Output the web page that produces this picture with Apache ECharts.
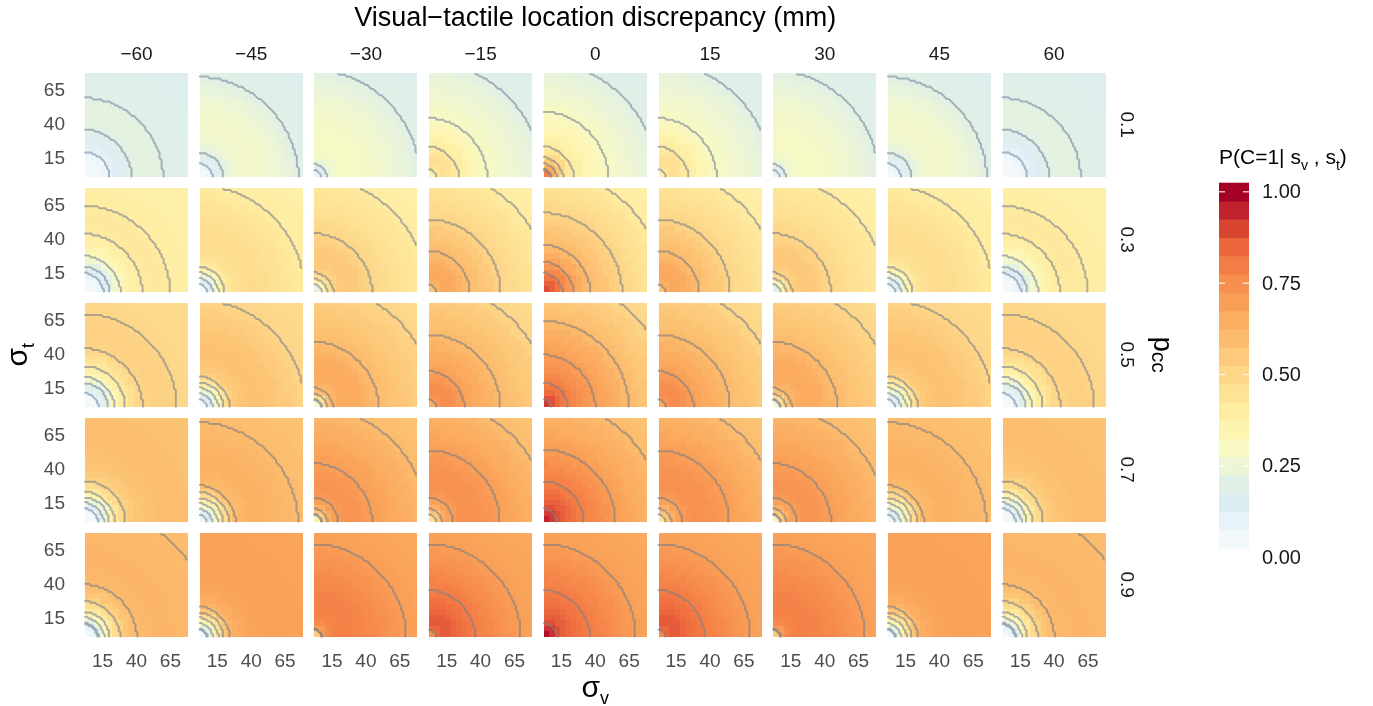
<!DOCTYPE html>
<html>
<head>
<meta charset="utf-8">
<title>P(C=1 | s_v, s_t)</title>
<script src="https://cdn.jsdelivr.net/npm/echarts@6/dist/echarts.min.js"></script>
<style>
  html, body { margin: 0; padding: 0; background: #ffffff; }
  #chart { width: 1373px; height: 706px; }
</style>
</head>
<body>
<div id="chart"></div>
<script>
// Facet columns (visual-tactile discrepancy, mm) and facet rows (prior p_cc)
const discrepancies = [-60, -45, -30, -15, 0, 15, 30, 45, 60];
const priorLabels = ['0.1', '0.3', '0.5', '0.7', '0.9'];

// sigma_v / sigma_t sample grid (mm) and the ticks shown on both axes
const sigmaCells = [4, 8, 12, 16, 20, 24, 28, 32, 36, 40, 44, 48, 52, 56, 60, 64, 68, 72, 76];
const sigmaTicks = [15, 40, 65];

// Radii sqrt(sigma_v^2 + sigma_t^2) at which the posterior is tabulated
const ringRadii = [6, 10, 14, 18, 22, 26, 30, 34, 38, 42, 47, 52, 57, 62, 67, 72, 77, 82, 88, 94, 100, 108];

// Posterior P(C=1 | s_v, s_t) per ring; rows are |discrepancy| = 0, 15, 30, 45, 60 mm
const profileDiscrepancies = [0, 15, 30, 45, 60];
const prob_pcc01 = [
  [0.80, 0.66, 0.55, 0.48, 0.42, 0.39, 0.37, 0.352, 0.338, 0.325, 0.308, 0.294, 0.28, 0.268, 0.256, 0.244, 0.232, 0.215, 0.198, 0.19, 0.183, 0.176],
  [0.36, 0.44, 0.465, 0.455, 0.415, 0.39, 0.37, 0.35, 0.332, 0.312, 0.296, 0.285, 0.274, 0.263, 0.253, 0.242, 0.23, 0.213, 0.197, 0.189, 0.182, 0.175],
  [0.09, 0.18, 0.245, 0.275, 0.29, 0.296, 0.296, 0.293, 0.289, 0.285, 0.278, 0.27, 0.26, 0.25, 0.238, 0.225, 0.208, 0.197, 0.19, 0.185, 0.18, 0.174],
  [0.03, 0.07, 0.13, 0.185, 0.225, 0.25, 0.265, 0.273, 0.278, 0.28, 0.277, 0.27, 0.258, 0.245, 0.23, 0.212, 0.197, 0.19, 0.185, 0.18, 0.176, 0.171],
  [0.012, 0.028, 0.048, 0.075, 0.105, 0.13, 0.155, 0.18, 0.203, 0.215, 0.222, 0.22, 0.208, 0.196, 0.19, 0.186, 0.182, 0.179, 0.176, 0.173, 0.17, 0.167]
];
const prob_pcc03 = [
  [0.89, 0.86, 0.82, 0.77, 0.72, 0.68, 0.65, 0.615, 0.595, 0.58, 0.563, 0.54, 0.515, 0.495, 0.48, 0.466, 0.452, 0.438, 0.415, 0.395, 0.388, 0.38],
  [0.57, 0.64, 0.665, 0.665, 0.652, 0.633, 0.61, 0.593, 0.578, 0.562, 0.545, 0.515, 0.495, 0.482, 0.47, 0.458, 0.446, 0.433, 0.412, 0.394, 0.386, 0.378],
  [0.22, 0.35, 0.46, 0.52, 0.545, 0.555, 0.555, 0.545, 0.528, 0.51, 0.492, 0.48, 0.468, 0.456, 0.445, 0.434, 0.423, 0.41, 0.396, 0.389, 0.383, 0.376],
  [0.05, 0.13, 0.24, 0.34, 0.41, 0.44, 0.458, 0.468, 0.472, 0.473, 0.47, 0.464, 0.455, 0.446, 0.434, 0.422, 0.406, 0.396, 0.39, 0.385, 0.38, 0.375],
  [0.01, 0.035, 0.08, 0.14, 0.21, 0.27, 0.315, 0.35, 0.375, 0.395, 0.41, 0.418, 0.418, 0.408, 0.396, 0.39, 0.386, 0.382, 0.379, 0.376, 0.373, 0.37]
];
const prob_pcc05 = [
  [0.92, 0.88, 0.84, 0.81, 0.79, 0.77, 0.75, 0.73, 0.71, 0.693, 0.675, 0.655, 0.635, 0.61, 0.595, 0.58, 0.565, 0.55, 0.53, 0.51, 0.495, 0.48],
  [0.66, 0.735, 0.755, 0.752, 0.735, 0.712, 0.69, 0.675, 0.66, 0.645, 0.628, 0.61, 0.595, 0.582, 0.57, 0.558, 0.546, 0.534, 0.512, 0.496, 0.488, 0.478],
  [0.28, 0.46, 0.58, 0.625, 0.648, 0.658, 0.66, 0.655, 0.645, 0.628, 0.608, 0.592, 0.58, 0.568, 0.556, 0.545, 0.534, 0.522, 0.508, 0.495, 0.488, 0.476],
  [0.05, 0.15, 0.25, 0.35, 0.45, 0.52, 0.55, 0.565, 0.572, 0.575, 0.574, 0.568, 0.56, 0.55, 0.538, 0.525, 0.508, 0.497, 0.492, 0.488, 0.484, 0.48],
  [0.01, 0.05, 0.11, 0.19, 0.27, 0.34, 0.385, 0.425, 0.46, 0.49, 0.507, 0.518, 0.522, 0.518, 0.506, 0.497, 0.492, 0.488, 0.485, 0.482, 0.48, 0.478]
];
const prob_pcc07 = [
  [0.95, 0.915, 0.885, 0.86, 0.84, 0.822, 0.805, 0.79, 0.775, 0.76, 0.74, 0.718, 0.695, 0.68, 0.665, 0.65, 0.636, 0.622, 0.608, 0.592, 0.582, 0.57],
  [0.45, 0.56, 0.64, 0.685, 0.715, 0.735, 0.745, 0.745, 0.74, 0.732, 0.72, 0.705, 0.69, 0.678, 0.664, 0.65, 0.636, 0.622, 0.605, 0.59, 0.58, 0.57],
  [0.36, 0.55, 0.64, 0.69, 0.715, 0.73, 0.735, 0.73, 0.72, 0.708, 0.695, 0.682, 0.67, 0.658, 0.646, 0.634, 0.622, 0.61, 0.598, 0.588, 0.58, 0.571],
  [0.07, 0.17, 0.28, 0.38, 0.47, 0.545, 0.603, 0.615, 0.625, 0.632, 0.633, 0.63, 0.625, 0.618, 0.611, 0.604, 0.597, 0.59, 0.585, 0.58, 0.576, 0.572],
  [0.01, 0.05, 0.14, 0.25, 0.35, 0.43, 0.48, 0.52, 0.545, 0.56, 0.572, 0.58, 0.584, 0.586, 0.586, 0.585, 0.584, 0.582, 0.58, 0.578, 0.576, 0.574]
];
const prob_pcc09 = [
  [0.98, 0.93, 0.885, 0.862, 0.847, 0.833, 0.82, 0.807, 0.796, 0.786, 0.772, 0.758, 0.743, 0.728, 0.712, 0.695, 0.688, 0.682, 0.677, 0.672, 0.667, 0.66],
  [0.77, 0.85, 0.87, 0.865, 0.852, 0.838, 0.823, 0.808, 0.795, 0.784, 0.77, 0.756, 0.741, 0.726, 0.71, 0.695, 0.688, 0.682, 0.677, 0.672, 0.667, 0.66],
  [0.55, 0.71, 0.76, 0.78, 0.79, 0.79, 0.787, 0.782, 0.776, 0.769, 0.76, 0.75, 0.738, 0.725, 0.71, 0.696, 0.689, 0.683, 0.678, 0.673, 0.668, 0.664],
  [0.06, 0.22, 0.35, 0.46, 0.56, 0.62, 0.648, 0.665, 0.676, 0.683, 0.688, 0.69, 0.691, 0.691, 0.69, 0.688, 0.686, 0.684, 0.682, 0.68, 0.678, 0.676],
  [0.03, 0.09, 0.22, 0.33, 0.42, 0.475, 0.52, 0.56, 0.588, 0.603, 0.612, 0.618, 0.62, 0.62, 0.618, 0.615, 0.612, 0.609, 0.606, 0.603, 0.597, 0.592]
];
const profilesByPrior = [prob_pcc01, prob_pcc03, prob_pcc05, prob_pcc07, prob_pcc09];

// Contour levels and colour scale
const contourLevels = [0.1, 0.2, 0.3, 0.4, 0.5, 0.6, 0.7, 0.8, 0.9];
const legendTicks = [0, 0.25, 0.5, 0.75, 1];
const palette = ['#f3f8fb', '#e7f3f8', '#dcedf2', '#e1f0e6', '#ecf5d6', '#f8f9c3', '#fdf4b0', '#feeca1',
                 '#fee295', '#fdd688', '#fdc97a', '#fcbb6d', '#fbad61', '#f99e57', '#f78f4f', '#f47d45',
                 '#ec663d', '#d84632', '#c0232e', '#a50026'];

// ---------------------------------------------------------------- layout
const FONT = "'Liberation Sans', Arial, Helvetica, sans-serif";
const PANEL = { left: 85, top: 72.7, width: 103, height: 104, dx: 114.7, dy: 115 };
const SIGMA_MIN = 2, SIGMA_MAX = 78, HALF_CELL = 2, CONTOUR_STEP = 1.5;

function nearestRing(r) {
  let best = 0;
  for (let k = 1; k < ringRadii.length; k++) {
    if (Math.abs(ringRadii[k] - r) < Math.abs(ringRadii[best] - r)) best = k;
  }
  return best;
}
const valueAt = (profile, sv, st) => profile[nearestRing(Math.hypot(sv, st))];

// marching squares on a lattice xs * ys, z[j][i] at (xs[i], ys[j])
const CASES = {
  1: [[3, 0]], 2: [[0, 1]], 3: [[3, 1]], 4: [[1, 2]], 5: [[3, 0], [1, 2]], 6: [[0, 2]], 7: [[3, 2]],
  8: [[2, 3]], 9: [[0, 2]], 10: [[0, 1], [2, 3]], 11: [[1, 2]], 12: [[1, 3]], 13: [[0, 1]], 14: [[3, 0]]
};
function contourSegments(xs, ys, z, level) {
  const segs = [];
  for (let j = 0; j < ys.length - 1; j++) {
    for (let i = 0; i < xs.length - 1; i++) {
      const bl = z[j][i], br = z[j][i + 1], tr = z[j + 1][i + 1], tl = z[j + 1][i];
      const code = (bl >= level ? 1 : 0) | (br >= level ? 2 : 0) | (tr >= level ? 4 : 0) | (tl >= level ? 8 : 0);
      if (!CASES[code]) continue;
      const edge = e => {
        if (e === 0) { const t = (level - bl) / (br - bl); return [xs[i] + t * (xs[i + 1] - xs[i]), ys[j]]; }
        if (e === 1) { const t = (level - br) / (tr - br); return [xs[i + 1], ys[j] + t * (ys[j + 1] - ys[j])]; }
        if (e === 2) { const t = (level - tl) / (tr - tl); return [xs[i] + t * (xs[i + 1] - xs[i]), ys[j + 1]]; }
        const t = (level - bl) / (tl - bl); return [xs[i], ys[j] + t * (ys[j + 1] - ys[j])];
      };
      CASES[code].forEach(([a, b]) => segs.push([edge(a), edge(b)]));
    }
  }
  return segs;
}
// join touching segments into polylines
function chainSegments(segs) {
  const key = p => p[0].toFixed(5) + ',' + p[1].toFixed(5);
  const ends = new Map();
  segs.forEach((s, i) => s.forEach(p => {
    const k = key(p);
    if (!ends.has(k)) ends.set(k, []);
    ends.get(k).push(i);
  }));
  const used = new Array(segs.length).fill(false);
  const out = [];
  segs.forEach((s, i) => {
    if (used[i]) return;
    used[i] = true;
    const pts = [s[0], s[1]];
    [true, false].forEach(atEnd => {
      for (;;) {
        const p = atEnd ? pts[pts.length - 1] : pts[0];
        const j = (ends.get(key(p)) || []).find(n => !used[n]);
        if (j === undefined) break;
        used[j] = true;
        const q = key(segs[j][0]) === key(p) ? segs[j][1] : segs[j][0];
        if (atEnd) pts.push(q); else pts.unshift(q);
      }
    });
    out.push(pts);
  });
  return out;
}

// contour stroke: grey, a little bluer for the low levels
function lineColour(level) {
  const t = Math.min(1, (level - 0.1) / 0.5);
  const a = [122, 140, 168], b = [128, 128, 132];
  return 'rgba(' + a.map((v, k) => Math.round(v + (b[k] - v) * t)).join(',') + ',0.62)';
}

const fineAxis = [];
for (let s = SIGMA_MIN; s <= SIGMA_MAX + 1e-9; s += CONTOUR_STEP) fineAxis.push(s);

const grids = [], xAxes = [], yAxes = [], series = [], heatIdx = [];
priorLabels.forEach((_, r) => {
  discrepancies.forEach((d, c) => {
    const idx = r * discrepancies.length + c;
    grids.push({ left: PANEL.left + c * PANEL.dx, top: PANEL.top + r * PANEL.dy, width: PANEL.width, height: PANEL.height });
    const axisBase = {
      gridIndex: idx, type: 'value', min: SIGMA_MIN, max: SIGMA_MAX,
      axisLine: { show: false }, axisTick: { show: false }, splitLine: { show: false }
    };
    xAxes.push(Object.assign({}, axisBase, {
      axisLabel: { show: r === priorLabels.length - 1, customValues: sigmaTicks, color: '#4d4d4d',
                   fontSize: 19, fontFamily: FONT, margin: 16 }
    }));
    yAxes.push(Object.assign({}, axisBase, {
      axisLabel: { show: c === 0, customValues: sigmaTicks, color: '#4d4d4d',
                   fontSize: 19, fontFamily: FONT, margin: 20 }
    }));

    const profile = profilesByPrior[r][profileDiscrepancies.indexOf(Math.abs(d))];
    const cells = [];
    sigmaCells.forEach(st => sigmaCells.forEach(sv => cells.push([sv, st, valueAt(profile, sv, st)])));

    heatIdx.push(series.length);
    series.push({
      type: 'custom', xAxisIndex: idx, yAxisIndex: idx, data: cells, silent: true,
      encode: { x: 0, y: 1 },
      renderItem: (params, api) => {
        const p0 = api.coord([api.value(0) - HALF_CELL, api.value(1) + HALF_CELL]);
        const p1 = api.coord([api.value(0) + HALF_CELL, api.value(1) - HALF_CELL]);
        const x0 = Math.round(p0[0]), y0 = Math.round(p0[1]);
        return {
          type: 'rect',
          shape: { x: x0, y: y0, width: Math.round(p1[0]) - x0, height: Math.round(p1[1]) - y0 },
          style: { fill: api.visual('color') }
        };
      }
    });

    const zFine = fineAxis.map(st => fineAxis.map(sv => valueAt(profile, sv, st)));
    const lineData = [];
    contourLevels.forEach(level => {
      chainSegments(contourSegments(fineAxis, fineAxis, zFine, level)).forEach(pts =>
        lineData.push({ coords: pts, lineStyle: { color: lineColour(level) } }));
    });
    series.push({
      type: 'lines', coordinateSystem: 'cartesian2d', polyline: true, xAxisIndex: idx, yAxisIndex: idx,
      data: lineData, silent: true, z: 5,
      lineStyle: { width: 2, opacity: 1, cap: 'round', join: 'round' }
    });
  });
});

// ---------------------------------------------------------------- text and legend
const graphics = [];
const text = (x, y, str, size, fill, extra) => graphics.push(Object.assign({
  type: 'text', x: x, y: y, silent: true,
  style: { text: str, fontSize: size, fontFamily: FONT, fill: fill, align: 'center', verticalAlign: 'middle' }
}, extra || {}));

const panelsCentreX = PANEL.left + ((discrepancies.length - 1) * PANEL.dx + PANEL.width) / 2;
const panelsCentreY = PANEL.top + ((priorLabels.length - 1) * PANEL.dy + PANEL.height) / 2;

text(panelsCentreX, 19, 'Visual\u2212tactile location discrepancy (mm)', 27, '#000000');
discrepancies.forEach((d, c) => {
  text(PANEL.left + c * PANEL.dx + PANEL.width / 2, 55, (d < 0 ? '\u2212' : '') + Math.abs(d), 19, '#1a1a1a');
});
priorLabels.forEach((p, r) => {
  text(1126, PANEL.top + r * PANEL.dy + PANEL.height / 2, p, 19, '#1a1a1a', { rotation: -Math.PI / 2 });
});

graphics.push({
  type: 'text', x: 1161, y: panelsCentreY, rotation: -Math.PI / 2, silent: true,
  style: {
    text: '{a|p}{b|cc}', align: 'center', verticalAlign: 'middle', fill: '#000',
    rich: { a: { fontSize: 27, fontFamily: FONT, fill: '#000' },
            b: { fontSize: 21, fontFamily: FONT, fill: '#000', verticalAlign: 'bottom' } }
  }
});
graphics.push({
  type: 'text', x: 19, y: panelsCentreY, rotation: Math.PI / 2, silent: true,
  style: {
    text: '{a|\u03c3}{b|t}', align: 'center', verticalAlign: 'middle',
    rich: { a: { fontSize: 30, fontFamily: FONT, fill: '#000' },
            b: { fontSize: 18, fontFamily: FONT, fill: '#000', verticalAlign: 'bottom', padding: [0, 0, -4, 0] } }
  }
});
graphics.push({
  type: 'text', x: panelsCentreX, y: 689, silent: true,
  style: {
    text: '{a|\u03c3}{b|v}', align: 'center', verticalAlign: 'middle',
    rich: { a: { fontSize: 30, fontFamily: FONT, fill: '#000' },
            b: { fontSize: 18, fontFamily: FONT, fill: '#000', verticalAlign: 'bottom', padding: [0, 0, -4, 0] } }
  }
});

// colour bar
const BAR = { x: 1219, top: 182.7, bottom: 548, width: 30 };
const binH = (BAR.bottom - BAR.top) / palette.length;
palette.forEach((col, k) => {
  graphics.push({
    type: 'rect', silent: true,
    shape: { x: BAR.x, y: BAR.bottom - (k + 1) * binH, width: BAR.width, height: binH + 0.6 },
    style: { fill: col }
  });
});
graphics.push({
  type: 'text', x: BAR.x, y: 158, silent: true,
  style: {
    text: '{n|P(C=1| s}{s|v}{n| , s}{s|t}{n|)}', align: 'left', verticalAlign: 'middle',
    rich: { n: { fontSize: 21, fontFamily: FONT, fill: '#000' },
            s: { fontSize: 14, fontFamily: FONT, fill: '#000', verticalAlign: 'bottom', padding: [0, 0, -5, 0] } }
  }
});
const tickY = v => 558.3 - v * 365.5;
legendTicks.forEach(v => {
  graphics.push({
    type: 'text', x: 1262, y: tickY(v), silent: true,
    style: { text: v.toFixed(2), fontSize: 20, fontFamily: FONT, fill: '#1a1a1a', align: 'left', verticalAlign: 'middle' }
  });
  if (v > 0) {
    [[BAR.x, BAR.x + 6], [BAR.x + BAR.width - 6, BAR.x + BAR.width]].forEach(([a, b]) => {
      graphics.push({
        type: 'line', silent: true, z: 10,
        shape: { x1: a, y1: tickY(v) - 1, x2: b, y2: tickY(v) - 1 },
        style: { stroke: '#ffffff', lineWidth: 1.2, opacity: 0.9 }
      });
    });
  }
});

const chart = echarts.init(document.getElementById('chart'), null, { renderer: 'canvas' });
chart.setOption({
  backgroundColor: '#ffffff',
  animation: false,
  grid: grids,
  xAxis: xAxes,
  yAxis: yAxes,
  visualMap: {
    type: 'continuous', show: false, min: 0.05, max: 1, dimension: 2,
    seriesIndex: heatIdx, inRange: { color: palette }
  },
  series: series,
  graphic: { elements: graphics }
});
</script>
</body>
</html>
